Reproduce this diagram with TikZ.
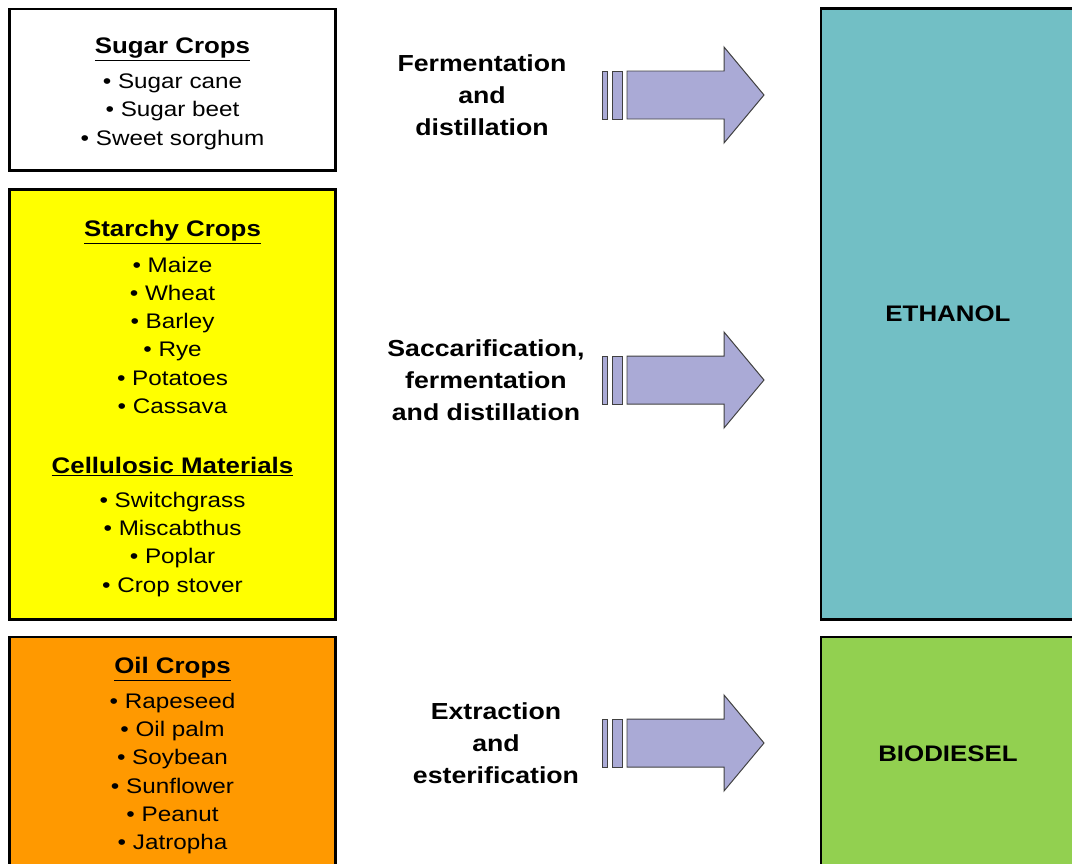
\documentclass[tikz,border=0pt]{standalone}
\usepackage{fontspec}
\setmainfont{Liberation Sans}[FakeStretch=1.15]
\definecolor{ethteal}{RGB}{114,191,197}
\definecolor{biogreen}{RGB}{146,208,80}
\definecolor{oilorange}{RGB}{255,153,0}
\definecolor{starchyellow}{RGB}{255,255,0}
\definecolor{arrowlilac}{RGB}{170,170,214}
\tikzset{
  crop/.style    = {rectangle, draw, line width=2.1pt, inner sep=0pt, minimum width=8.125cm},
  croptxt/.style = {align=center, inner sep=0pt, font=\fontsize{15}{20.1}\selectfont},
  fuel/.style    = {rectangle, draw, line width=2.1pt, inner sep=0pt, minimum width=6.35cm, font=\fontsize{16}{20}\selectfont\bfseries},
  proc/.style    = {align=center, font=\fontsize{16.5}{22.8}\selectfont\bfseries},
  fat/.style     = {draw=black!75, fill=arrowlilac, line width=0.7pt}
}
\newcommand{\croptitle}[1]{{\fontsize{16}{20.1}\selectfont\bfseries\underline{#1}}}

\begin{document}
\begin{tikzpicture}[x=0.025cm, y=-0.025cm]
  \useasboundingbox (0,0) rectangle (1072,863);

  % materie prime (sinistra)
  \node[crop, fill=white, minimum height=4.025cm] (sugar) at (172.5,89.5) {};
  \node[crop, fill=starchyellow, minimum height=10.725cm] (starch) at (172.5,404.5) {};
  \node[crop, fill=oilorange, minimum height=5.825cm] (oil) at (172.5,753.5) {};

  \node[croptxt] (sugartxt) at (172.5,93.5)
    {\croptitle{Sugar Crops}\\[5pt] • Sugar cane\\ • Sugar beet\\ • Sweet sorghum};
  \node[croptxt] (starchtxt) at (172.5,408.5)
    {\croptitle{Starchy Crops}\\[5pt] • Maize\\ • Wheat\\ • Barley\\ • Rye\\ • Potatoes\\ • Cassava\\[22.5pt]
     \croptitle{Cellulosic Materials}\\[4pt] • Switchgrass\\ • Miscabthus\\ • Poplar\\ • Crop stover};
  \node[croptxt] (oiltxt) at (172.5,755.5)
    {\croptitle{Oil Crops}\\[5pt] • Rapeseed\\ • Oil palm\\ • Soybean\\ • Sunflower\\ • Peanut\\ • Jatropha};

  % prodotti (destra)
  \node[fuel, fill=ethteal, minimum height=15.25cm] (ethanol) at (948,314) {\raisebox{-2.5pt}{ETHANOL}};
  \node[fuel, fill=biogreen, minimum height=5.825cm] (biodiesel) at (948,753.5) {BIODIESEL};

  % processi
  \node[proc] (p1) at (482,95)  {Fermentation\\ and\\ distillation};
  \node[proc] (p2) at (486,380) {Saccarification,\\ fermentation\\ and distillation};
  \node[proc] (p3) at (496,743) {Extraction\\ and\\ esterification};

  % frecce
  \foreach \y in {95,380,743} {
    \draw[fat] (602,\y-24) rectangle (607,\y+24);
    \draw[fat] (612,\y-24) rectangle (622,\y+24);
    \draw[fat] (627,\y-24) -- (724,\y-24) -- (724,\y-48) -- (764,\y)
               -- (724,\y+48) -- (724,\y+24) -- (627,\y+24) -- cycle;
  }

\end{tikzpicture}
\end{document}
